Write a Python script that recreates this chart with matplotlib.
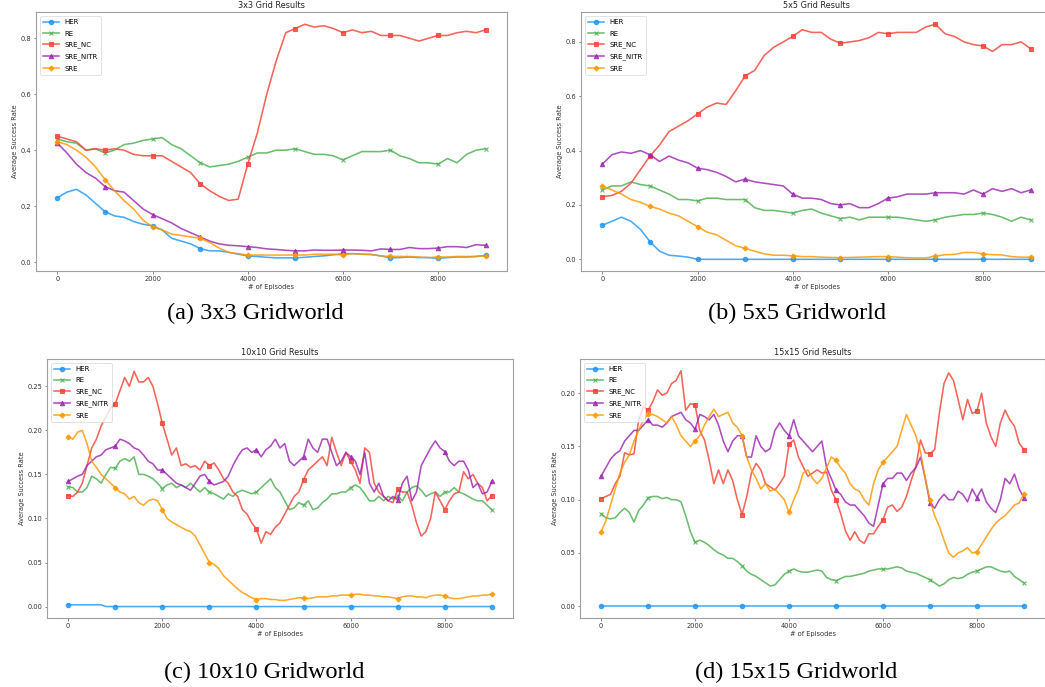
import matplotlib
matplotlib.use("Agg")
import matplotlib.pyplot as plt

# ---------------- data ----------------
episodes_coarse = list(range(0, 9001, 200))   # panels (a), (b)
episodes_fine = list(range(0, 9001, 100))     # panels (c), (d)
series_names = ["HER", "RE", "SRE_NC", "SRE_NITR", "SRE"]
titles = ["3x3 Grid Results", "5x5 Grid Results", "10x10 Grid Results", "15x15 Grid Results"]
captions = ["(a) 3x3 Gridworld", "(b) 5x5 Gridworld", "(c) 10x10 Gridworld", "(d) 15x15 Gridworld"]

a_her = [0.23,0.25,0.26,0.24,0.21,0.18,0.165,0.16,0.145,0.135,0.13,0.115,0.085,0.075,0.065,0.048,0.04,0.04,0.035,0.028,0.022,0.02,0.017,0.015,0.015,0.015,0.017,0.02,0.022,0.026,0.03,0.03,0.028,0.027,0.022,0.015,0.016,0.018,0.016,0.016,0.013,0.016,0.018,0.018,0.02,0.024]
a_re = [0.44,0.43,0.425,0.40,0.405,0.39,0.40,0.42,0.425,0.435,0.44,0.445,0.42,0.405,0.38,0.355,0.34,0.345,0.35,0.36,0.375,0.39,0.39,0.40,0.40,0.405,0.395,0.385,0.385,0.38,0.365,0.38,0.395,0.395,0.395,0.40,0.38,0.37,0.355,0.355,0.35,0.37,0.355,0.385,0.40,0.405]
a_nc = [0.45,0.44,0.43,0.40,0.405,0.40,0.405,0.40,0.385,0.38,0.38,0.38,0.36,0.34,0.32,0.28,0.255,0.235,0.22,0.225,0.35,0.46,0.60,0.72,0.82,0.835,0.85,0.84,0.845,0.835,0.82,0.83,0.82,0.825,0.81,0.81,0.81,0.80,0.79,0.80,0.81,0.81,0.82,0.825,0.82,0.83]
a_nitr = [0.425,0.39,0.35,0.32,0.30,0.27,0.255,0.25,0.22,0.19,0.17,0.155,0.14,0.12,0.105,0.09,0.075,0.065,0.06,0.058,0.055,0.052,0.047,0.045,0.042,0.04,0.04,0.043,0.042,0.042,0.043,0.043,0.042,0.04,0.047,0.045,0.045,0.052,0.048,0.048,0.05,0.055,0.055,0.052,0.062,0.06]
a_sre = [0.43,0.42,0.40,0.375,0.34,0.295,0.255,0.22,0.19,0.15,0.125,0.115,0.10,0.095,0.09,0.085,0.07,0.05,0.035,0.03,0.025,0.025,0.025,0.025,0.025,0.025,0.025,0.028,0.028,0.028,0.025,0.03,0.028,0.027,0.022,0.02,0.02,0.02,0.018,0.016,0.018,0.018,0.02,0.02,0.02,0.022]

b_her = [0.125,0.14,0.155,0.14,0.11,0.065,0.03,0.015,0.012,0.008,0.0,0.0,0.0,0.0,0.0,0.0,0.0,0.0,0.0,0.0,0.0,0.0,0.0,0.0,0.0,0.0,0.0,0.0,0.0,0.0,0.0,0.0,0.0,0.0,0.0,0.0,0.0,0.0,0.0,0.0,0.0,0.0,0.0,0.0,0.0,0.0]
b_re = [0.255,0.27,0.27,0.285,0.275,0.27,0.255,0.24,0.22,0.22,0.215,0.225,0.225,0.22,0.22,0.22,0.19,0.18,0.18,0.175,0.17,0.18,0.185,0.17,0.16,0.15,0.155,0.145,0.155,0.155,0.155,0.155,0.15,0.145,0.14,0.145,0.155,0.16,0.165,0.165,0.17,0.165,0.155,0.14,0.155,0.145]
b_nc = [0.23,0.235,0.25,0.28,0.33,0.38,0.42,0.47,0.49,0.51,0.535,0.56,0.575,0.57,0.62,0.675,0.695,0.75,0.78,0.80,0.82,0.845,0.835,0.835,0.81,0.795,0.80,0.805,0.815,0.835,0.83,0.835,0.835,0.835,0.855,0.865,0.83,0.82,0.80,0.79,0.785,0.765,0.79,0.79,0.80,0.775]
b_nitr = [0.35,0.385,0.395,0.39,0.40,0.385,0.36,0.38,0.365,0.355,0.335,0.33,0.32,0.305,0.285,0.295,0.285,0.28,0.275,0.27,0.24,0.225,0.225,0.22,0.205,0.20,0.205,0.19,0.19,0.205,0.225,0.23,0.24,0.24,0.24,0.245,0.245,0.245,0.24,0.255,0.24,0.26,0.25,0.26,0.245,0.255]
b_sre = [0.27,0.255,0.24,0.22,0.21,0.195,0.185,0.17,0.16,0.14,0.12,0.10,0.09,0.07,0.05,0.04,0.03,0.02,0.015,0.015,0.013,0.01,0.01,0.008,0.007,0.006,0.007,0.008,0.009,0.01,0.01,0.008,0.006,0.005,0.005,0.012,0.017,0.018,0.025,0.025,0.02,0.017,0.016,0.01,0.008,0.008]

c_her = [0.002,0.002,0.002,0.002,0.002,0.002,0.002,0.002,0.0,0.0,
         0.0,0.0,0.0,0.0,0.0,0.0,0.0,0.0,0.0,0.0,
         0.0,0.0,0.0,0.0,0.0,0.0,0.0,0.0,0.0,0.0,
         0.0,0.0,0.0,0.0,0.0,0.0,0.0,0.0,0.0,0.0,
         0.0,0.0,0.0,0.0,0.0,0.0,0.0,0.0,0.0,0.0,
         0.0,0.0,0.0,0.0,0.0,0.0,0.0,0.0,0.0,0.0,
         0.0,0.0,0.0,0.0,0.0,0.0,0.0,0.0,0.0,0.0,
         0.0,0.0,0.0,0.0,0.0,0.0,0.0,0.0,0.0,0.0,
         0.0,0.0,0.0,0.0,0.0,0.0,0.0,0.0,0.0,0.0,
         0.0]
c_re = [0.136,0.135,0.13,0.13,0.135,0.148,0.145,0.14,0.15,0.158,
        0.157,0.165,0.168,0.165,0.17,0.15,0.15,0.148,0.145,0.14,
        0.134,0.138,0.14,0.135,0.138,0.135,0.14,0.135,0.13,0.135,
        0.13,0.128,0.125,0.122,0.128,0.125,0.13,0.132,0.13,0.128,
        0.13,0.135,0.14,0.145,0.135,0.13,0.12,0.11,0.112,0.118,
        0.115,0.12,0.11,0.112,0.118,0.122,0.128,0.128,0.13,0.13,
        0.135,0.138,0.135,0.128,0.12,0.12,0.125,0.12,0.125,0.122,
        0.125,0.12,0.13,0.135,0.137,0.132,0.125,0.128,0.13,0.125,
        0.13,0.13,0.135,0.13,0.128,0.125,0.122,0.12,0.12,0.115,
        0.11]
c_nc = [0.126,0.125,0.13,0.14,0.16,0.18,0.19,0.205,0.215,0.225,
        0.23,0.245,0.26,0.25,0.267,0.255,0.255,0.26,0.25,0.23,
        0.208,0.19,0.172,0.18,0.16,0.162,0.158,0.16,0.155,0.165,
        0.16,0.163,0.155,0.145,0.14,0.13,0.125,0.11,0.105,0.095,
        0.088,0.072,0.085,0.082,0.09,0.095,0.105,0.115,0.125,0.13,
        0.144,0.155,0.16,0.165,0.17,0.16,0.192,0.175,0.16,0.175,
        0.165,0.155,0.14,0.18,0.175,0.14,0.13,0.125,0.12,0.118,
        0.133,0.13,0.13,0.115,0.095,0.08,0.085,0.1,0.13,0.12,
        0.11,0.12,0.128,0.13,0.153,0.145,0.15,0.14,0.135,0.12,
        0.126]
c_nitr = [0.142,0.145,0.148,0.15,0.16,0.165,0.17,0.172,0.178,0.18,
          0.182,0.19,0.188,0.185,0.18,0.178,0.172,0.165,0.162,0.155,
          0.155,0.15,0.145,0.14,0.138,0.135,0.132,0.14,0.148,0.15,
          0.142,0.138,0.14,0.142,0.148,0.16,0.17,0.178,0.18,0.175,
          0.178,0.17,0.178,0.182,0.19,0.18,0.185,0.165,0.16,0.165,
          0.17,0.19,0.18,0.175,0.19,0.19,0.175,0.16,0.165,0.175,
          0.17,0.165,0.15,0.175,0.14,0.13,0.14,0.125,0.12,0.125,
          0.121,0.14,0.148,0.12,0.13,0.16,0.17,0.18,0.188,0.18,
          0.176,0.165,0.16,0.165,0.165,0.155,0.135,0.14,0.128,0.13,
          0.142]
c_sre = [0.193,0.19,0.198,0.2,0.185,0.165,0.158,0.15,0.145,0.14,
         0.135,0.13,0.128,0.122,0.125,0.118,0.115,0.12,0.122,0.12,
         0.11,0.1,0.096,0.093,0.09,0.087,0.085,0.08,0.07,0.06,
         0.05,0.048,0.043,0.035,0.03,0.025,0.02,0.016,0.013,0.01,
         0.008,0.009,0.009,0.008,0.008,0.007,0.007,0.008,0.009,0.01,
         0.01,0.009,0.01,0.011,0.011,0.011,0.012,0.012,0.013,0.013,
         0.013,0.014,0.014,0.013,0.013,0.012,0.012,0.011,0.011,0.01,
         0.009,0.011,0.012,0.012,0.011,0.011,0.01,0.012,0.013,0.013,
         0.012,0.01,0.009,0.009,0.01,0.011,0.012,0.012,0.013,0.013,
         0.014]

d_her = [0.0,0.0,0.0,0.0,0.0,0.0,0.0,0.0,0.0,0.0,
         0.0,0.0,0.0,0.0,0.0,0.0,0.0,0.0,0.0,0.0,
         0.0,0.0,0.0,0.0,0.0,0.0,0.0,0.0,0.0,0.0,
         0.0,0.0,0.0,0.0,0.0,0.0,0.0,0.0,0.0,0.0,
         0.0,0.0,0.0,0.0,0.0,0.0,0.0,0.0,0.0,0.0,
         0.0,0.0,0.0,0.0,0.0,0.0,0.0,0.0,0.0,0.0,
         0.0,0.0,0.0,0.0,0.0,0.0,0.0,0.0,0.0,0.0,
         0.0,0.0,0.0,0.0,0.0,0.0,0.0,0.0,0.0,0.0,
         0.0,0.0,0.0,0.0,0.0,0.0,0.0,0.0,0.0,0.0,
         0.0]
d_re = [0.087,0.083,0.082,0.083,0.088,0.092,0.088,0.079,0.09,0.095,
        0.102,0.103,0.103,0.101,0.102,0.1,0.1,0.098,0.085,0.07,
        0.06,0.062,0.06,0.057,0.053,0.05,0.048,0.045,0.045,0.042,
        0.038,0.033,0.03,0.028,0.025,0.022,0.019,0.02,0.025,0.03,
        0.033,0.035,0.033,0.032,0.032,0.033,0.034,0.033,0.027,0.025,
        0.024,0.026,0.028,0.028,0.029,0.03,0.031,0.033,0.034,0.035,
        0.035,0.035,0.036,0.037,0.036,0.033,0.032,0.031,0.029,0.027,
        0.025,0.022,0.019,0.021,0.025,0.027,0.026,0.027,0.03,0.032,
        0.033,0.035,0.037,0.037,0.035,0.033,0.032,0.033,0.028,0.025,
        0.022]
d_nc = [0.101,0.103,0.105,0.115,0.122,0.144,0.142,0.143,0.175,0.187,
        0.184,0.192,0.203,0.198,0.2,0.209,0.212,0.221,0.184,0.19,
        0.189,0.165,0.156,0.137,0.115,0.128,0.115,0.128,0.118,0.1,
        0.086,0.103,0.125,0.134,0.128,0.115,0.112,0.109,0.115,0.122,
        0.152,0.156,0.14,0.131,0.122,0.125,0.128,0.125,0.126,0.109,
        0.1,0.087,0.071,0.062,0.07,0.062,0.059,0.068,0.068,0.075,
        0.081,0.093,0.095,0.089,0.093,0.103,0.118,0.131,0.156,0.144,
        0.143,0.147,0.181,0.209,0.219,0.212,0.194,0.175,0.194,0.181,
        0.183,0.2,0.172,0.159,0.15,0.172,0.184,0.175,0.169,0.153,
        0.147]
d_nitr = [0.122,0.13,0.138,0.143,0.146,0.155,0.16,0.165,0.165,0.17,
          0.175,0.17,0.17,0.168,0.172,0.178,0.18,0.182,0.175,0.172,
          0.166,0.18,0.178,0.175,0.18,0.17,0.155,0.145,0.155,0.16,
          0.16,0.14,0.14,0.16,0.15,0.145,0.148,0.165,0.172,0.165,
          0.16,0.175,0.16,0.155,0.15,0.145,0.15,0.155,0.13,0.12,
          0.109,0.105,0.098,0.095,0.095,0.09,0.085,0.078,0.075,0.095,
          0.115,0.12,0.12,0.125,0.125,0.118,0.125,0.13,0.14,0.12,
          0.097,0.092,0.1,0.105,0.1,0.1,0.108,0.105,0.098,0.11,
          0.102,0.11,0.098,0.092,0.088,0.1,0.12,0.115,0.124,0.11,
          0.102]
d_sre = [0.07,0.08,0.095,0.11,0.125,0.135,0.142,0.155,0.165,0.175,
         0.18,0.18,0.178,0.175,0.172,0.178,0.17,0.16,0.155,0.15,
         0.155,0.16,0.17,0.178,0.185,0.178,0.18,0.182,0.172,0.168,
         0.16,0.14,0.128,0.12,0.11,0.115,0.108,0.11,0.105,0.1,
         0.088,0.1,0.11,0.125,0.128,0.12,0.115,0.12,0.13,0.14,
         0.137,0.13,0.125,0.115,0.11,0.108,0.1,0.095,0.115,0.128,
         0.135,0.14,0.145,0.15,0.165,0.18,0.17,0.16,0.145,0.12,
         0.1,0.085,0.075,0.062,0.05,0.046,0.05,0.052,0.055,0.05,
         0.051,0.058,0.065,0.072,0.078,0.082,0.085,0.09,0.095,0.097,
         0.105]

panels = [
    (episodes_coarse, [a_her, a_re, a_nc, a_nitr, a_sre]),
    (episodes_coarse, [b_her, b_re, b_nc, b_nitr, b_sre]),
    (episodes_fine, [c_her, c_re, c_nc, c_nitr, c_sre]),
    (episodes_fine, [d_her, d_re, d_nc, d_nitr, d_sre]),
]

# ---------------- style ----------------
colors = ["#2196F3", "#4CAF50", "#F44336", "#9C27B0", "#FF9800"]
markers = ["o", "x", "s", "^", "P"]

W, H = 1045, 687
fig = plt.figure(figsize=(W / 100, H / 100), dpi=100)

# axes boxes in pixels: left, top, right, bottom
boxes = [(36, 12, 507, 271), (581, 12, 1052, 271), (47, 359, 513, 618), (580, 359, 1045, 618)]
ylims = [(-0.032, 0.894), (-0.043, 0.910), (-0.013, 0.281), (-0.011, 0.232)]
caption_pos = [(255, 313), (797, 313), (264, 672), (796, 672)]

tick_fs = 4.8
for i, (l, t, r, b) in enumerate(boxes):
    ax = fig.add_axes([l / W, 1 - b / H, (r - l) / W, (b - t) / H])
    xs, series = panels[i]
    step = xs[1] - xs[0]
    for vals, name, c, m in zip(series, series_names, colors, markers):
        ax.plot(xs, vals, color=c, marker=m, markevery=1000 // step, lw=1.15,
                ms=3.2, mew=0.8, alpha=0.82, label=name)
    ax.set_xlim(-450, 9450)
    ax.set_ylim(*ylims[i])
    ax.set_title(titles[i], fontsize=5.9, pad=3, color="#222222")
    ax.set_xlabel("# of Episodes", fontsize=tick_fs, labelpad=1.5, color="#333333")
    ax.set_ylabel("Average Success Rate", fontsize=tick_fs, labelpad=2, color="#333333")
    ax.tick_params(labelsize=tick_fs, length=1.8, width=0.5, pad=1.6,
                   colors="#555555", labelcolor="#333333")
    for s in ax.spines.values():
        s.set_color("#a0a0a0")
        s.set_linewidth(0.8)
    leg = ax.legend(loc="upper left", fontsize=5.0, borderaxespad=0.6,
                    handlelength=2.2, labelspacing=0.75, borderpad=0.45,
                    framealpha=0.8, edgecolor="#cccccc")
    leg.get_frame().set_linewidth(0.5)
    cx, cy = caption_pos[i]
    fig.text(cx / W, 1 - cy / H, captions[i], ha="center", va="center",
             fontsize=17.5, family=["Liberation Serif", "DejaVu Serif"])

fig.savefig("out.png", dpi=100)
